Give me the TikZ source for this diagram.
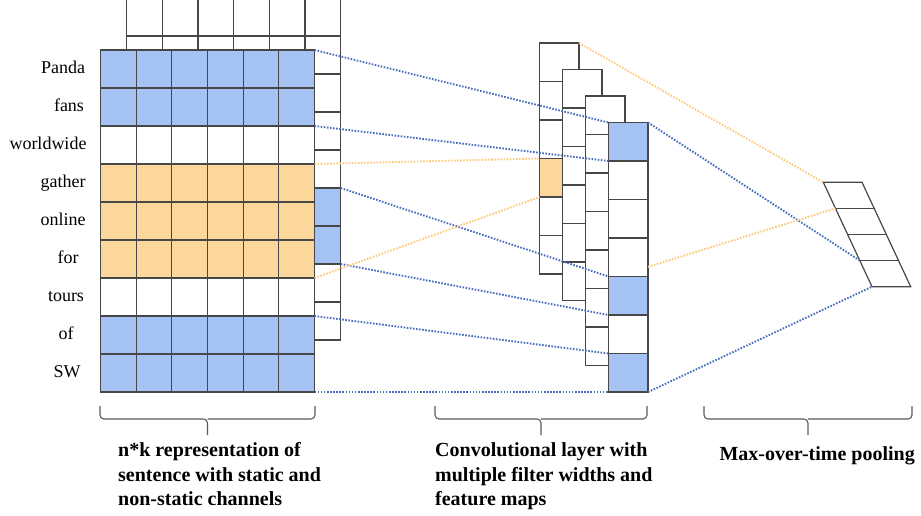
\documentclass[tikz,border=0pt]{standalone}
\usepackage{fontspec}
\setmainfont{Liberation Serif}
\usepackage{tikz}
\usetikzlibrary{calc}
\usetikzlibrary{positioning}
\definecolor{cellblue}{HTML}{A4C2F4}
\definecolor{cellorange}{HTML}{FCD79B}
\definecolor{gridgray}{HTML}{474747}
\definecolor{bracegray}{HTML}{5A5A5A}
\definecolor{dotblue}{HTML}{4A6EBD}
\definecolor{dotorange}{HTML}{FFC97A}
\tikzstyle{cell} = [rectangle, draw = gridgray, line width = 1.2, fill = white, inner sep = 0, outer sep = 0, anchor = north west, minimum width = 35.67, minimum height = 38]
\tikzstyle{fmap} = [cell, minimum width = 39.5, minimum height = 38.5]
\tikzstyle{grid} = [draw = gridgray, line width = 1.2]
\tikzstyle{bluedots} = [draw = dotblue, line width = 1.9, dash pattern = on 1.6pt off 1.5pt]
\tikzstyle{orangedots} = [draw = dotorange, line width = 1.9, dash pattern = on 1.6pt off 1.5pt]
\tikzstyle{bracket} = [draw = bracegray, line width = 1.1, rounded corners = 4]
\tikzstyle{word} = [draw = none, inner sep = 0, anchor = base, font = \fontsize{18}{20}\selectfont]
\tikzstyle{caption} = [draw = none, inner sep = 0, anchor = base west, align = left, font = \fontsize{20}{24.5}\selectfont\bfseries]

\begin{document}
\begin{tikzpicture}[x = 1pt, y = -1pt]
\useasboundingbox (0, 0) rectangle (921, 515);
% second channel, behind
\foreach \r/\col in {0/white, 1/white, 2/white, 3/white, 4/white, 5/cellblue, 6/cellblue, 7/white, 8/white}
  \foreach \c in {0,...,5}
    \node [cell, fill = \col] (b-\r-\c) at ({126.7 + 35.67*\c}, {-2 + 38*\r}) {};
% first channel
\foreach \r/\col in {0/cellblue, 1/cellblue, 2/white, 3/cellorange, 4/cellorange, 5/cellorange, 6/white, 7/cellblue, 8/cellblue}
  \foreach \c in {0,...,5}
    \node [cell, fill = \col] (f-\r-\c) at ({100.5 + 35.67*\c}, {50 + 38*\r}) {};
% words
\foreach \w/\x [count = \r from 0] in {Panda/63, fans/69, worldwide/48, gather/63, online/63, for/68, tours/66, of/66, SW/67}
  \node [word] (w\r) at (\x, {73.5 + 38*\r}) {\w};
% feature maps
\foreach \r/\col in {0/white, 1/white, 2/white, 3/cellorange, 4/white, 5/white}
  \node [fmap, fill = \col] (c1-\r) at (539.5, {43 + 38.5*\r}) {};
\foreach \r in {0,...,5}
  \node [fmap] (c2-\r) at (562.5, {69.5 + 38.5*\r}) {};
\foreach \r in {0,...,6}
  \node [fmap] (c3-\r) at (585.5, {96 + 38.5*\r}) {};
\foreach \r/\col in {0/cellblue, 1/white, 2/white, 3/white, 4/cellblue, 5/white, 6/cellblue}
  \node [fmap, fill = \col] (c4-\r) at (608.5, {122.5 + 38.5*\r}) {};
% pooling
\foreach \i in {0,...,4}
  \coordinate (p\i) at ({823.3 + 12.175*\i}, {182.3 + 26.1*\i});
\draw [grid] (p0) -- ++(38.7, 0) -- ($(p4) + (38.7, 0)$) -- (p4) -- cycle;
\foreach \i in {1,2,3}
  \draw [grid] (p\i) -- ++(38.7, 0);
\coordinate (o4) at ($(c4-3.north east)!.75!(c4-3.south east)$);
% connections
\draw [bluedots] (f-0-5.north east) -- (c4-0.north west);
\draw [bluedots] (f-1-5.south east) -- (c4-0.south west);
\draw [bluedots] (b-5-5.north east) -- (c4-4.north west);
\draw [bluedots] (b-6-5.south east) -- (c4-4.south west);
\draw [bluedots] (f-7-5.north east) -- (c4-6.north west);
\draw [bluedots] (f-8-5.south east) -- (c4-6.south west);
\draw [bluedots] (c4-0.north east) -- (p3);
\draw [bluedots] (c4-6.south east) -- (p4);
\draw [orangedots] (f-3-5.north east) -- (c1-3.north west);
\draw [orangedots] (f-5-5.south east) -- (c1-3.south west);
\draw [orangedots] (c1-0.north east) -- (p0);
\draw [orangedots] (o4) -- (p1);
% brackets
\foreach \l/\r in {100/315, 435/647, 704/912} {
  \draw [bracket] (\l, 406) -- (\l, 419) -- ({(\l+\r)/2}, 419) -- ({(\l+\r)/2}, 435);
  \draw [bracket] (\r, 406) -- (\r, 419) -- ({(\l+\r)/2}, 419);
}
\node [caption] (t1) at (118, 505.7) {n*k representation of\\sentence with static and\\non-static channels};
\node [caption] (t2) at (435, 505.7) {Convolutional layer with\\multiple filter widths and\\feature maps};
\node [caption] (t3) at (719.3, 460) {Max-over-time pooling};
\end{tikzpicture}
\end{document}
